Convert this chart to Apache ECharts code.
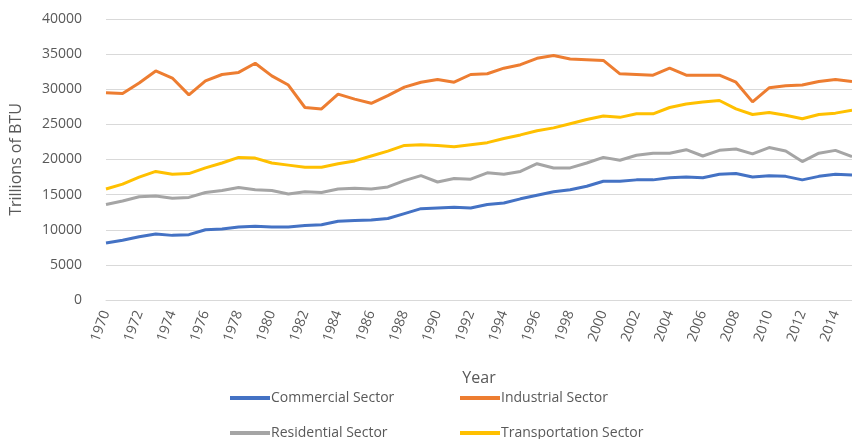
<!DOCTYPE html>
<html>
<head>
<meta charset="utf-8">
<script src="https://cdn.jsdelivr.net/npm/echarts@6/dist/echarts.min.js"></script>
<style>
  html, body { margin: 0; padding: 0; background: #fff; }
  #chart { width: 852px; height: 439px; }
</style>
</head>
<body>
<div id="chart"></div>
<script>
var years = []
for (var y = 1970; y <= 2015; y++) years.push(String(y))

var commercial = [8100, 8500, 9000, 9400, 9200, 9300, 10000, 10100, 10400, 10500,
  10400, 10400, 10600, 10700, 11200, 11300, 11400, 11600, 12300, 13000,
  13100, 13200, 13100, 13600, 13800, 14400, 14900, 15400, 15700, 16200,
  16900, 16900, 17100, 17100, 17400, 17500, 17400, 17900, 18000, 17500,
  17700, 17600, 17100, 17600, 17900, 17800]
var industrial = [29500, 29400, 30900, 32600, 31600, 29200, 31200, 32100, 32400, 33700,
  31900, 30600, 27400, 27200, 29300, 28600, 28000, 29100, 30300, 31000,
  31400, 31000, 32100, 32200, 33000, 33500, 34400, 34800, 34300, 34200,
  34100, 32200, 32100, 32000, 33000, 32000, 32000, 32000, 31000, 28200,
  30200, 30500, 30600, 31100, 31400, 31100]
var residential = [13600, 14100, 14700, 14800, 14500, 14600, 15300, 15600, 16000, 15700,
  15600, 15100, 15400, 15300, 15800, 15900, 15800, 16100, 17000, 17700,
  16800, 17300, 17200, 18100, 17900, 18300, 19400, 18800, 18800, 19500,
  20300, 19900, 20600, 20900, 20900, 21400, 20500, 21300, 21500, 20800,
  21700, 21200, 19700, 20900, 21300, 20400]
var transportation = [15800, 16500, 17500, 18300, 17900, 18000, 18800, 19500, 20300, 20200,
  19500, 19200, 18900, 18900, 19400, 19800, 20500, 21200, 22000, 22100,
  22000, 21800, 22100, 22400, 23000, 23500, 24100, 24500, 25100, 25700,
  26200, 26000, 26500, 26500, 27400, 27900, 28200, 28400, 27200, 26400,
  26700, 26300, 25800, 26400, 26600, 27000]

var seriesNames = ['Commercial Sector', 'Industrial Sector', 'Residential Sector', 'Transportation Sector']
var seriesColors = ['#4472C4', '#ED7D31', '#A5A5A5', '#FFC000']
var seriesData = [commercial, industrial, residential, transportation]
// legend slot for each series: [left, top]
var legendSpots = [[230, 391], [460, 391], [230, 426], [460, 426]]

var textColor = '#595959'
var fontName = 'Open Sans'

var myEchart = echarts.init(document.getElementById('chart'), null, { renderer: 'canvas' })

var option = {
  animation: false,
  backgroundColor: '#fff',
  legend: seriesNames.map(function(n, i) {
    return {
      left: legendSpots[i][0],
      top: legendSpots[i][1],
      padding: 0,
      itemWidth: 40,
      itemHeight: 4,
      data: [{ name: n, icon: 'rect' }],
      textStyle: { color: textColor, fontSize: 14, fontFamily: fontName, padding: [0, 0, 0, -4] }
    }
  }),
  grid: {
    left: 104,
    right: -2,
    top: 19,
    bottom: 139
  },
  xAxis: {
    type: 'category',
    data: years,
    boundaryGap: false,
    name: 'Year',
    nameLocation: 'middle',
    nameGap: 70,
    nameTextStyle: { color: textColor, fontSize: 16, fontFamily: fontName },
    axisLine: { lineStyle: { color: '#d9d9d9' } },
    axisTick: { show: false },
    axisLabel: {
      interval: 1,
      rotate: 70,
      margin: 11,
      color: textColor,
      fontSize: 14,
      fontFamily: fontName
    }
  },
  yAxis: {
    type: 'value',
    min: 0,
    max: 40000,
    interval: 5000,
    name: 'Trillions of BTU',
    nameLocation: 'middle',
    nameGap: 82,
    nameTextStyle: { color: textColor, fontSize: 16, fontFamily: fontName },
    axisLine: { show: false },
    axisTick: { show: false },
    axisLabel: {
      color: textColor, fontSize: 14, margin: 24, fontFamily: fontName,
      formatter: function(v) { return String(v) }
    },
    splitLine: { lineStyle: { color: '#d9d9d9', width: 1 } }
  },
  series: seriesNames.map(function(name, i) {
    return {
      name: name,
      type: 'line',
      data: seriesData[i],
      showSymbol: false,
      symbol: 'none',
      lineStyle: { color: seriesColors[i], width: 3 },
      itemStyle: { color: seriesColors[i] }
    }
  })
}
myEchart.setOption(option)
</script>
</body>
</html>
